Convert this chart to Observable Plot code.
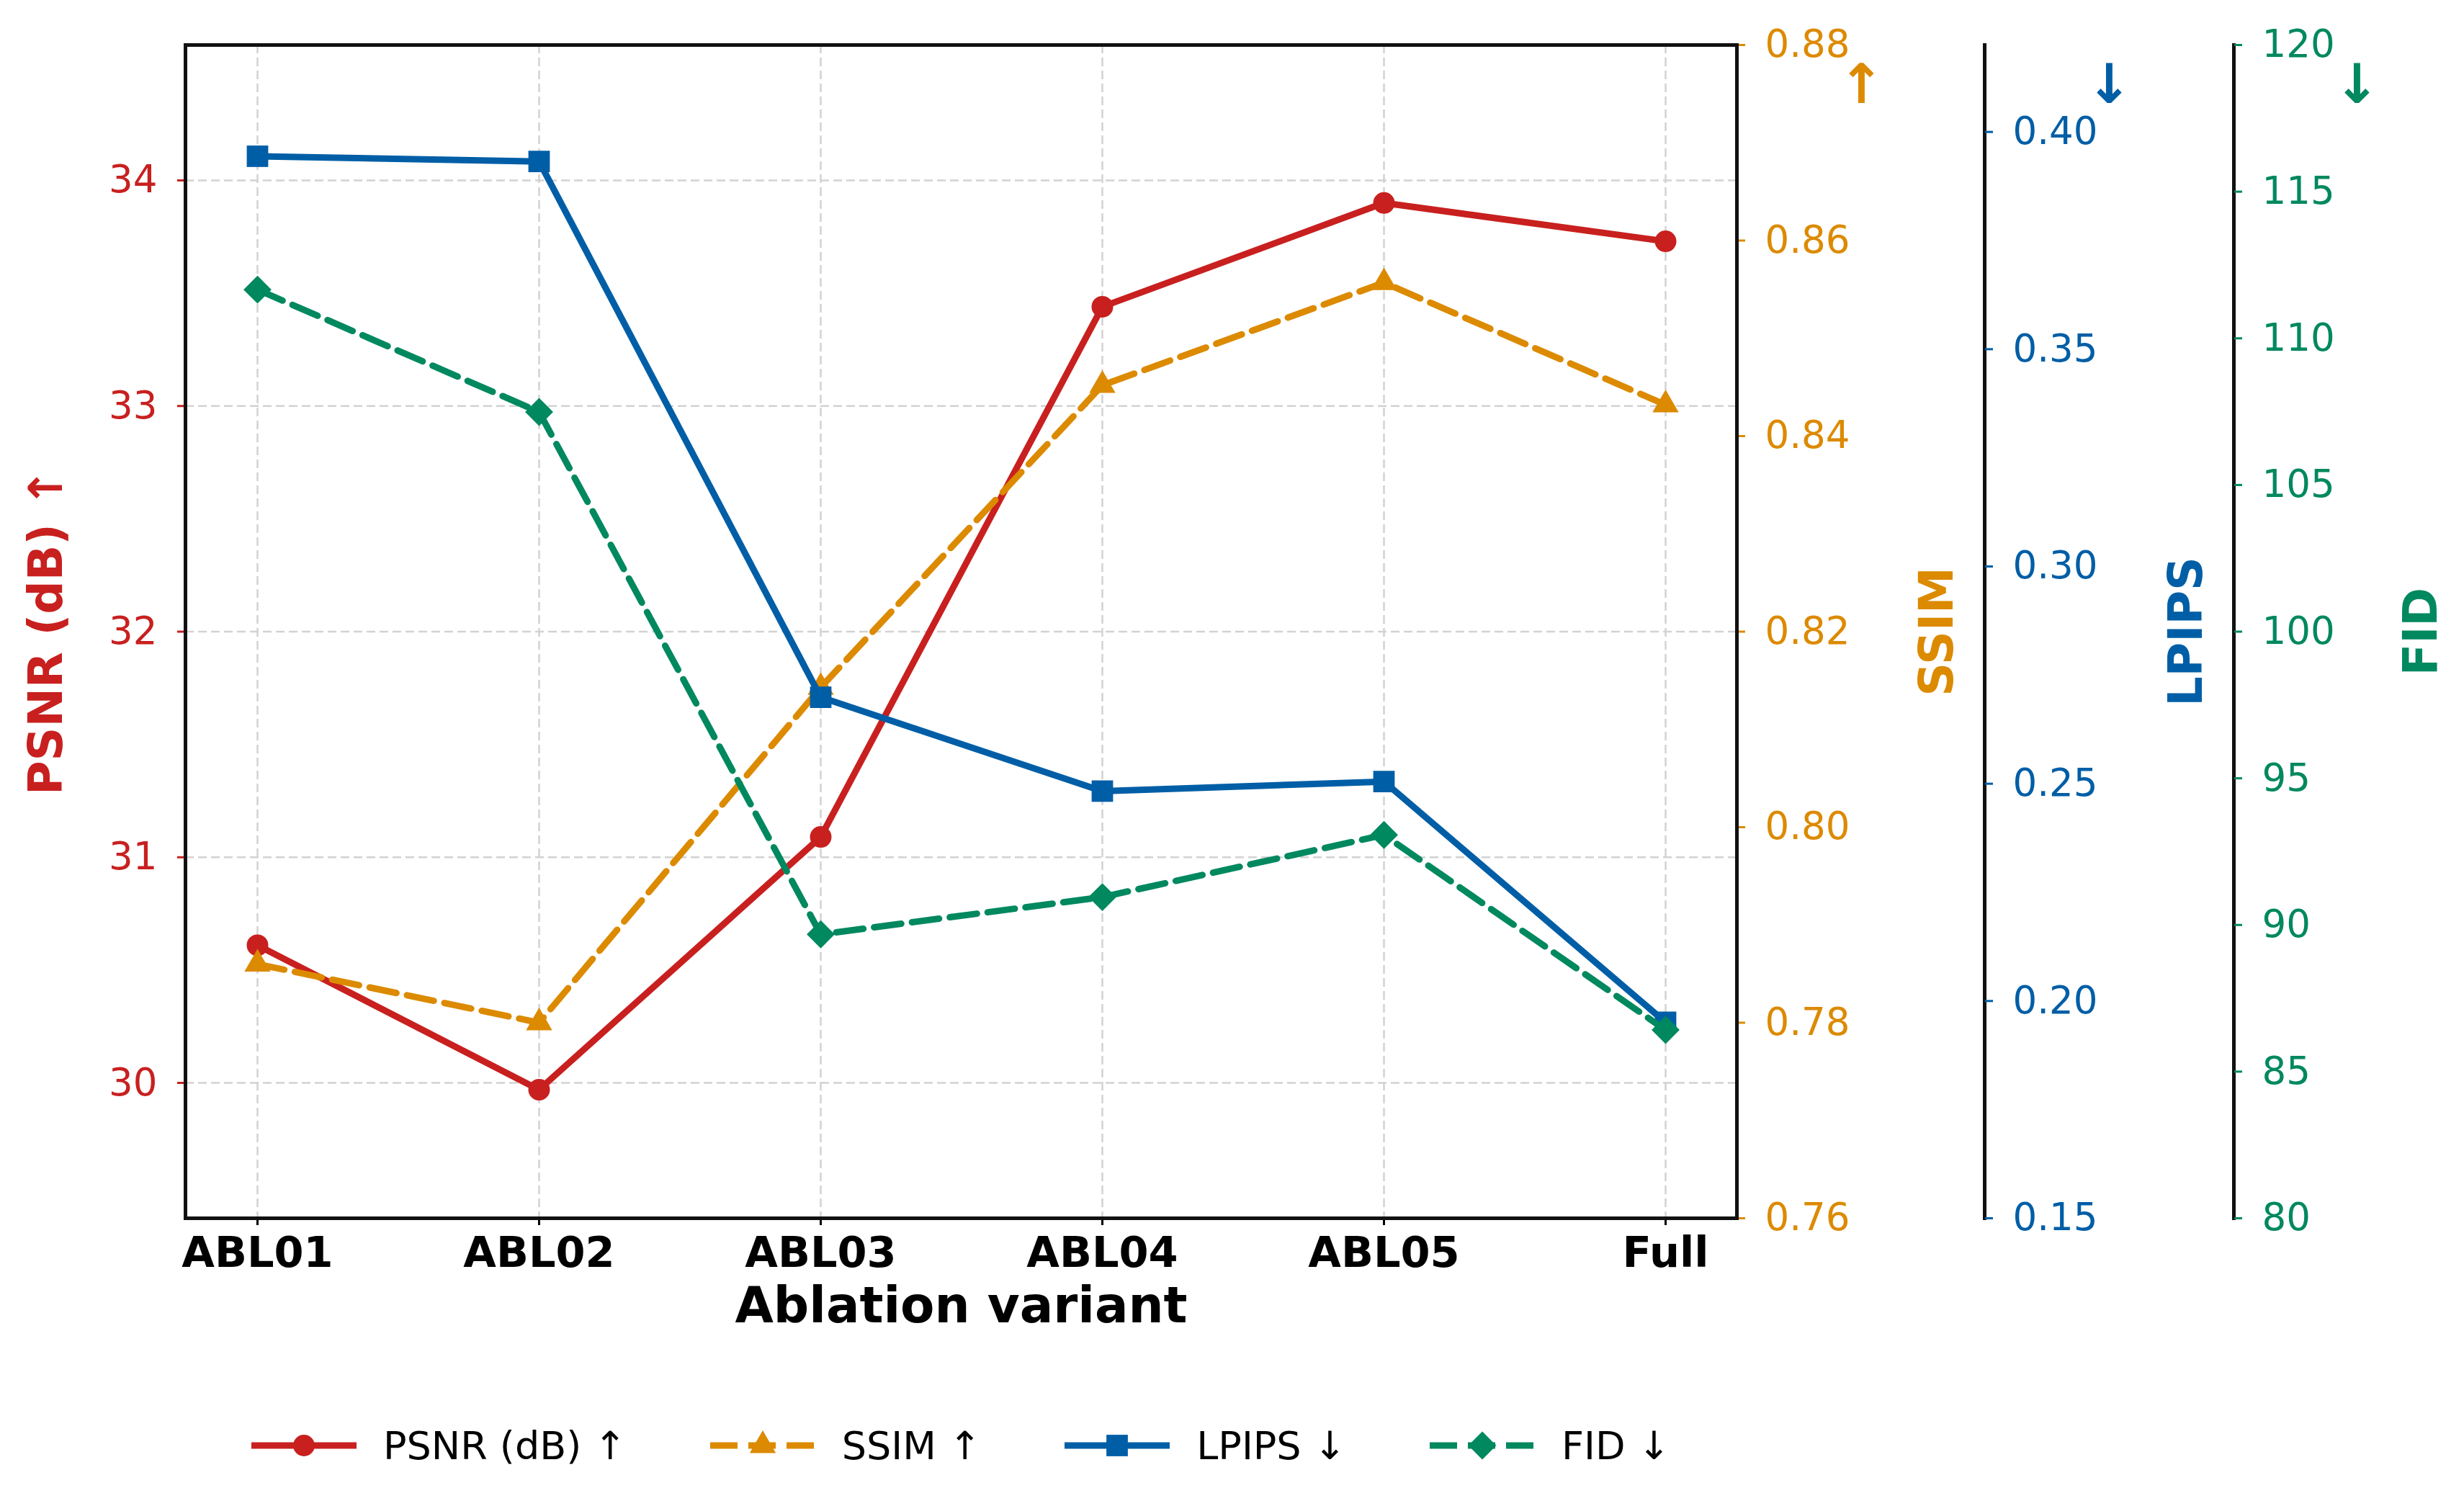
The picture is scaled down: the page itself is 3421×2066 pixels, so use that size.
<!DOCTYPE html>
<html><head><meta charset="utf-8">
<script src="https://cdn.jsdelivr.net/npm/d3@7"></script>
<script src="https://cdn.jsdelivr.net/npm/@observablehq/plot@0.6"></script>
<style>
html,body{margin:0;padding:0;background:#fff;overflow:hidden;}
#wrap{width:3421px;height:2066px;position:relative;font-family:"DejaVu Sans",sans-serif;}
#chart{position:absolute;left:0;top:0;}
#legend{position:absolute;left:257px;width:2154px;top:1947px;height:120px;display:flex;justify-content:center;align-items:center;gap:116px;font-size:54px;color:#000;}
.item{display:flex;align-items:center;gap:37px;white-space:nowrap;}
.item svg{display:block;}
</style></head><body><div id="wrap"><div id="chart"></div><div id="legend"></div></div>
<script>
// ---- data ----
const variants = ["ABL01", "ABL02", "ABL03", "ABL04", "ABL05", "Full"];
const psnr  = [30.61, 29.97, 31.09, 33.44, 33.90, 33.73];
const ssim  = [0.786, 0.780, 0.8143, 0.8452, 0.8557, 0.8432];
const lpips = [0.3944, 0.3932, 0.2699, 0.2483, 0.2505, 0.1951];
const fid   = [111.66, 107.49, 89.68, 90.95, 93.07, 86.42];

const psnrTicks  = [30, 31, 32, 33, 34];
const ssimTicks  = [0.76, 0.78, 0.80, 0.82, 0.84, 0.86, 0.88];
const lpipsTicks = [0.15, 0.20, 0.25, 0.30, 0.35, 0.40];
const fidTicks   = [80, 85, 90, 95, 100, 105, 110, 115, 120];

const psnrDomain  = [29.4, 34.6];
const ssimDomain  = [0.76, 0.88];
const lpipsDomain = [0.15, 0.42];
const fidDomain   = [80, 120];

const seriesNames  = ["PSNR (dB) ↑", "SSIM ↑", "LPIPS ↓", "FID ↓"];
const seriesTitles = ["PSNR (dB) ↑", "SSIM", "LPIPS", "FID"];
const seriesColors = ["#C8201F", "#DC8A00", "#005EA6", "#00885F"];
const seriesSymbols = ["circle", "triangle", "square", "diamond2"];
const seriesR = [15, 13.5, 16.8, 17.5];
const seriesDash = [null, "38,15", null, "38,15"];

// ---- mapping of secondary axes onto the primary (PSNR) y scale ----
const toS = d3.scaleLinear(ssimDomain, psnrDomain);
const toL = d3.scaleLinear(lpipsDomain, psnrDomain);
const toF = d3.scaleLinear(fidDomain, psnrDomain);
const ident = d3.scaleLinear(psnrDomain, psnrDomain);
const maps = [ident, toS, toL, toF];
const values = [psnr, ssim, lpips, fid];
const series = values.map((vals, k) => variants.map((v, i) => ({variant: v, y: maps[k](vals[i])})));

const [RED, ORANGE, BLUE, GREEN] = seriesColors;
const gridStyle = {stroke: "#d2d2d2", strokeOpacity: 1, strokeWidth: 2.5, strokeDasharray: "12,6"};
const tickCommon = {tickSize: 11, tickPadding: 28, fontSize: 53, strokeWidth: 3, label: null};

const seriesMarks = series.flatMap((data, k) => [
  Plot.line(data, {x: "variant", y: "y", stroke: seriesColors[k], strokeWidth: 9,
    strokeDasharray: seriesDash[k] ?? undefined, strokeLinejoin: "round"}),
  Plot.dot(data, {x: "variant", y: "y", symbol: seriesSymbols[k], r: seriesR[k], fill: seriesColors[k], stroke: null})
]);

const titleStyle = {text: d => d, rotate: -90, textAnchor: "middle", lineAnchor: "middle", fontSize: 65, fontWeight: "bold"};
const arrowStyle = {text: d => d, frameAnchor: "top-right", dy: 56, textAnchor: "middle", lineAnchor: "middle", fontSize: 76, fontWeight: "bold"};

const chart = Plot.plot({
  width: 3421, height: 1900,
  marginTop: 62, marginBottom: 209, marginLeft: 257, marginRight: 1010,
  style: {fontFamily: "DejaVu Sans", background: "white", overflow: "visible"},
  x: {type: "point", domain: variants, padding: 0.25},
  y: {domain: psnrDomain, nice: false},
  marks: [
    Plot.gridX(variants, gridStyle),
    Plot.gridY(psnrTicks, gridStyle),
    Plot.axisX(variants, {anchor: "bottom", tickSize: 10, tickPadding: 16, fontSize: 59, fontWeight: "bold", color: "#000", strokeWidth: 3, label: null}),
    Plot.axisY(psnrTicks, {anchor: "left", color: RED, ...tickCommon, tickFormat: d3.format("d")}),
    Plot.axisY(ssimTicks.map(toS), {anchor: "right", color: ORANGE, ...tickCommon,
      tickFormat: v => d3.format(".2f")(toS.invert(v))}),
    Plot.frame({anchor: "right", dx: 344, stroke: "#111", strokeWidth: 5}),
    Plot.axisY(lpipsTicks.map(toL), {anchor: "right", dx: 344, color: BLUE, ...tickCommon,
      tickFormat: v => d3.format(".2f")(toL.invert(v))}),
    Plot.frame({anchor: "right", dx: 690, stroke: "#111", strokeWidth: 5}),
    Plot.axisY(fidTicks.map(toF), {anchor: "right", dx: 690, color: GREEN, ...tickCommon,
      tickFormat: v => d3.format("d")(Math.round(toF.invert(v)))}),
    ...seriesMarks,
    Plot.frame({stroke: "#111", strokeWidth: 5}),
    // axis titles
    Plot.text([seriesTitles[0]], {...titleStyle, frameAnchor: "left", dx: -192, fill: RED}),
    Plot.text([seriesTitles[1]], {...titleStyle, frameAnchor: "right", dx: 279, fill: ORANGE}),
    Plot.text([seriesTitles[2]], {...titleStyle, frameAnchor: "right", dx: 625, fill: BLUE}),
    Plot.text([seriesTitles[3]], {...titleStyle, frameAnchor: "right", dx: 951, fill: GREEN}),
    // direction arrows
    Plot.text(["↑"], {...arrowStyle, dx: 173, fill: ORANGE}),
    Plot.text(["↓"], {...arrowStyle, dx: 517, fill: BLUE}),
    Plot.text(["↓"], {...arrowStyle, dx: 861, fill: GREEN}),
    // x label
    Plot.text(["Ablation variant"], {text: d => d, frameAnchor: "bottom", dy: 122, textAnchor: "middle", lineAnchor: "middle", fill: "#000", fontSize: 69, fontWeight: "bold"})
  ]
});
document.getElementById("chart").appendChild(chart);

// ---- legend (HTML, below the plot) ----
const symbolTypes = {circle: d3.symbolCircle, triangle: d3.symbolTriangle, square: d3.symbolSquare, diamond2: d3.symbolDiamond2};
const legend = document.getElementById("legend");
seriesNames.forEach((name, k) => {
  const item = document.createElement("div");
  item.className = "item";
  const path = d3.symbol().type(symbolTypes[seriesSymbols[k]]).size(Math.PI * seriesR[k] * seriesR[k])();
  const dash = seriesDash[k] ? `stroke-dasharray="${seriesDash[k]}"` : "";
  item.innerHTML = `<svg width="146" height="60" viewBox="0 0 146 60">
      <line x1="0" y1="30" x2="146" y2="30" stroke="${seriesColors[k]}" stroke-width="9" ${dash}/>
      <path d="${path}" transform="translate(73,30)" fill="${seriesColors[k]}"/>
    </svg><span>${name}</span>`;
  legend.appendChild(item);
});
</script></body></html>
